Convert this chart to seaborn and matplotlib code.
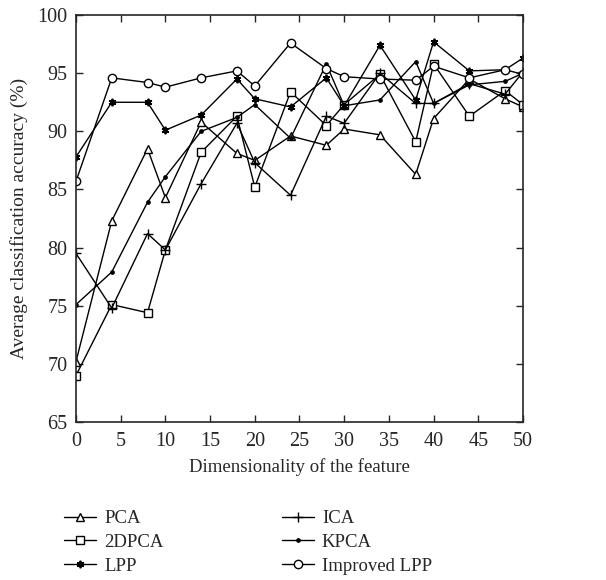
import matplotlib
matplotlib.use("Agg")
import matplotlib.pyplot as plt
import seaborn as sns
import pandas as pd

dims = [0, 4, 8, 10, 14, 18, 20, 24, 28, 30, 34, 38, 40, 44, 48, 50]
pca = [70.2, 82.3, 88.5, 84.3, 90.8, 88.1, 87.5, 89.6, 88.8, 90.2, 89.7, 86.3, 91.1, 94.5, 92.8, 92.1]
dpca2 = [69.0, 75.1, 74.4, 79.8, 88.2, 91.3, 85.2, 93.4, 90.5, 92.3, 94.9, 89.1, 95.8, 91.3, 93.5, 92.3]
lpp = [87.8, 92.5, 92.5, 90.1, 91.4, 94.5, 92.8, 92.1, 94.6, 92.2, 97.4, 92.7, 97.7, 95.2, 95.3, 96.3]
ica = [79.5, 74.8, 81.2, 79.8, 85.5, 90.7, 87.3, 84.5, 91.3, 90.7, 95.0, 92.4, 92.4, 94.1, 93.2, 95.1]
kpca = [75.1, 77.9, 83.9, 86.1, 90.0, 91.2, 92.3, 89.4, 95.8, 92.2, 92.7, 96.0, 92.4, 94.0, 94.3, 95.0]
ilpp = [85.7, 94.6, 94.2, 93.8, 94.6, 95.2, 93.9, 97.6, 95.4, 94.7, 94.5, 94.4, 95.6, 94.6, 95.3, 94.9]

names = ["PCA", "2DPCA", "LPP", "ICA", "KPCA", "Improved LPP"]
series = [pca, dpca2, lpp, ica, kpca, ilpp]

sns.set_style("ticks")
plt.rcParams['font.family'] = ['Liberation Serif', 'DejaVu Serif']

fig = plt.figure(figsize=(6.06, 5.8), dpi=100)
ax = fig.add_axes([0.1254, 0.2724, 0.7376, 0.7016])

styles = {
    "PCA": dict(marker="^", markersize=9, markerfacecolor="white"),
    "2DPCA": dict(marker="s", markersize=9, markerfacecolor="white"),
    "LPP": dict(marker=(6, 2, 0), markersize=9, markerfacecolor="black", markeredgewidth=1.3),
    "ICA": dict(marker="+", markersize=11, markerfacecolor="black", markeredgewidth=1.0),
    "KPCA": dict(marker="o", markersize=4, markerfacecolor="black"),
    "Improved LPP": dict(marker="o", markersize=10, markerfacecolor="white"),
}

for name, vals in zip(names, series):
    df = pd.DataFrame({"x": dims, "y": vals})
    st = dict(styles[name])
    st.setdefault("markeredgewidth", 1.0)
    sns.lineplot(data=df, x="x", y="y", ax=ax, color="black", linewidth=1.0,
                 markeredgecolor="black", label=name, **st)

ax.set_xlim(0, 50)
ax.set_ylim(65, 100)
ax.set_xticks(range(0, 51, 5))
ax.set_yticks(range(65, 101, 5))
ax.tick_params(direction="in", length=5, width=1, labelsize=14.5, top=True, right=True)
ax.tick_params(axis="x", pad=7)
ax.tick_params(axis="y", pad=6)
for sp in ax.spines.values():
    sp.set_linewidth(1.2)
ax.set_xlabel("Dimensionality of the feature", fontsize=13.5, labelpad=5)
ax.set_ylabel("Average classification accuracy (%)", fontsize=14, labelpad=7)

handles, labels = ax.get_legend_handles_labels()
for h in handles:
    h.set_markersize(h.get_markersize() * 0.6)
ax.legend(handles, labels, ncol=2, loc="upper left", bbox_to_anchor=(-0.065, -0.175),
          frameon=False, fontsize=13.5, handlelength=1.7, columnspacing=6.3,
          labelspacing=0.35, handletextpad=0.45)

fig.savefig("out.png", dpi=100)
